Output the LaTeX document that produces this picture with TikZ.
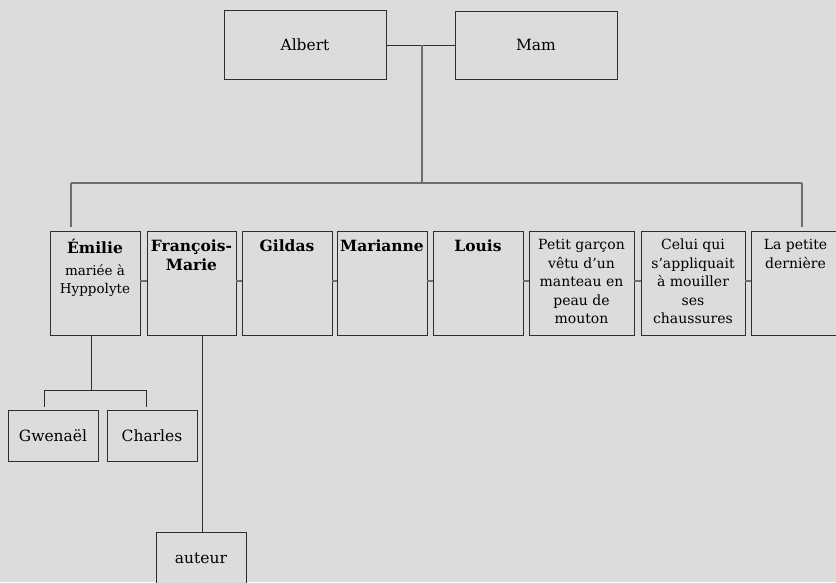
\documentclass[tikz,border=0pt]{standalone}
\usepackage{fontspec}
\setmainfont{DejaVu Serif}
\usetikzlibrary{positioning,calc}
\definecolor{paper}{HTML}{DCDCDC}
\definecolor{ink}{HTML}{2E2E2E}
\definecolor{wirec}{HTML}{6E6E6E}
\tikzset{person/.style={draw=ink,fill=paper,line width=.9pt,inner sep=0pt},
  tag/.style={inner sep=0pt,align=center,font=\fontsize{14}{18.5}\selectfont},
  link/.style={draw=ink,line width=.9pt},
  bar/.style={draw=wirec,line width=1.1pt}}
\newcommand{\kid}[4]{% name, left, right, text
\pgfmathsetmacro{\kw}{#3-#2}
\pgfmathsetmacro{\kx}{(#2+#3)/2}
\node[person,minimum width=\kw pt,minimum height=104pt] (#1) at (\kx,283) {};
\node[tag,anchor=north] (#1-t) at ([yshift=-8.5pt]#1.north) {#4};
}
\newcommand{\bname}[1]{{\fontsize{15.5}{19}\selectfont\bfseries #1}}

\begin{document}
\begin{tikzpicture}[x=1pt,y=-1pt]
\fill[paper] (0,0) rectangle (836,582);
\useasboundingbox (0,0) rectangle (836,582);
% parents
\node[person,minimum width=162pt,minimum height=69pt,font=\fontsize{15.5}{18}\selectfont] (albert) at (305,45) {Albert};
\node[person,minimum width=162pt,minimum height=68pt,font=\fontsize{15.5}{18}\selectfont] (mam) at (536,45) {Mam};
% children
\kid{emilie}{50}{140}{\bname{Émilie}\\[3pt]{\fontsize{13.5}{18}\selectfont mariée à}\\{\fontsize{13.5}{18}\selectfont Hyppolyte}}
\kid{fm}{147}{236}{\bname{François-}\\[1pt]\bname{Marie}}
\kid{gildas}{242}{332}{\bname{Gildas}}
\kid{marianne}{337}{427}{\bname{Marianne}}
\kid{louis}{433}{523}{\bname{Louis}}
\kid{garcon}{529}{634}{Petit garçon\\vêtu d’un\\manteau en\\peau de\\mouton}
\kid{celui}{641}{745}{Celui qui\\s’appliquait\\à mouiller\\ses\\chaussures}
\kid{petite}{751}{840}{La petite\\dernière}
% grandchildren
\node[person,minimum width=90pt,minimum height=51pt,font=\fontsize{15.5}{18}\selectfont] (gwen) at (53,435.5) {Gwenaël};
\node[person,minimum width=90pt,minimum height=51pt,font=\fontsize{15.5}{18}\selectfont] (charles) at (152,435.5) {Charles};
\node[person,minimum width=90pt,minimum height=52pt,font=\fontsize{15.5}{18}\selectfont] (auteur) at (201,558) {auteur};
% connectors
\coordinate (couple) at (422,45);
\coordinate (barL) at (71,183);
\coordinate (barR) at (802,183);
\draw[link] (albert) -- (mam);
\draw[bar] (couple) -- (couple |- barL);
\draw[bar] (barL) -- (barR);
\draw[bar] (barL) -- ([yshift=4pt]barL |- emilie.north);
\draw[bar] (barR) -- ([yshift=4pt]barR |- petite.north);
\foreach \a/\b in {emilie/fm,fm/gildas,gildas/marianne,marianne/louis,louis/garcon,garcon/celui,celui/petite}
 \draw[bar] ([yshift=2pt]\a.east) -- ([yshift=2pt]\b.west);
\coordinate (emfork) at (91,390);
\coordinate (forkL) at (44,390);
\coordinate (forkR) at (146,390);
\draw[link] (emfork |- emilie.south) -- (emfork);
\draw[link] (forkL) -- (forkR);
\draw[link] (forkL) -- ([yshift=3pt]forkL |- gwen.north);
\draw[link] (forkR) -- ([yshift=3pt]forkR |- charles.north);
\draw[link] ([xshift=1pt]auteur.north |- fm.south) -- ([xshift=1pt]auteur.north);
\end{tikzpicture}
\end{document}
